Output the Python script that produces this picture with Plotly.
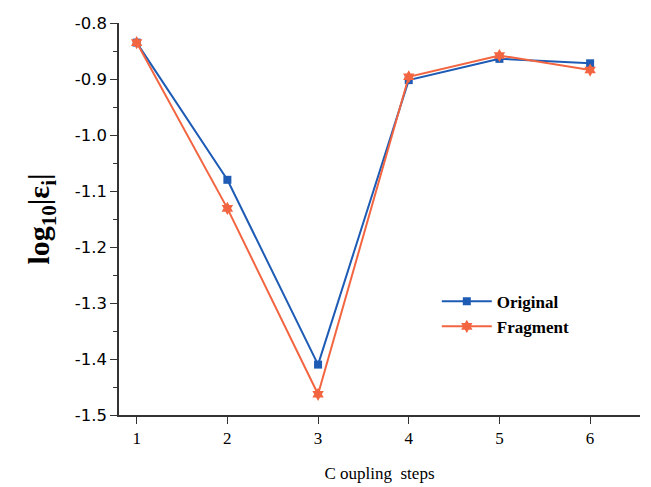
import plotly.graph_objects as go

steps = [1, 2, 3, 4, 5, 6]
original = [-0.835, -1.08, -1.41, -0.902, -0.864, -0.872]
fragment = [-0.835, -1.131, -1.463, -0.896, -0.858, -0.884]
y_ticks = [-0.8, -0.9, -1.0, -1.1, -1.2, -1.3, -1.4, -1.5]

blue = "#1d5bb5"
orange = "#f26540"

fig = go.Figure()
fig.add_trace(go.Scatter(x=steps, y=original, name="Original", mode="lines+markers",
                         line=dict(color=blue, width=2),
                         marker=dict(symbol="square", size=8, color=blue)))
fig.add_trace(go.Scatter(x=steps, y=fragment, name="Fragment", mode="lines+markers",
                         line=dict(color=orange, width=2),
                         marker=dict(symbol="hexagram", size=10, color=orange)))

fig.update_layout(
    width=651, height=487,
    margin=dict(l=119, r=11, t=23, b=72),
    paper_bgcolor="white", plot_bgcolor="white",
    showlegend=True,
    legend=dict(x=0.61, y=0.335, xanchor="left", yanchor="top",
                font=dict(family="Liberation Serif", size=17, color="black", weight="bold"),
                bgcolor="rgba(0,0,0,0)", tracegroupgap=0, itemwidth=50),
    xaxis=dict(range=[0.805, 6.55], tickvals=steps, ticktext=[str(s) for s in steps],
               automargin=False,
               showgrid=False, zeroline=False, showline=True, linecolor="#333", linewidth=1.5,
               ticks="outside", ticklen=7, tickwidth=1.3, tickcolor="#333",
               tickfont=dict(family="Liberation Serif", size=17, color="black"),
               title=dict(text="C oupling  steps", standoff=20,
                          font=dict(family="Liberation Serif", size=17, color="black"))),
    yaxis=dict(range=[-1.5, -0.8], tickvals=y_ticks, ticktext=[f"{v:.1f}" for v in y_ticks],
               automargin=False,
               showgrid=False, zeroline=False, showline=True, linecolor="#333", linewidth=1.5,
               ticks="outside", ticklen=7, tickwidth=1.3, tickcolor="#333",
               minor=dict(dtick=0.05, ticks="outside", ticklen=4, tickwidth=1.2, tickcolor="#333"),
               tickfont=dict(family="DejaVu Sans", size=16.5, color="black"),
               title=dict(text="<b>log<sub>10</sub>|ε<sub>i</sub>|</b>", standoff=16,
                          font=dict(family="Liberation Serif", size=30, color="black"))),
)

fig.write_html("out.html")
